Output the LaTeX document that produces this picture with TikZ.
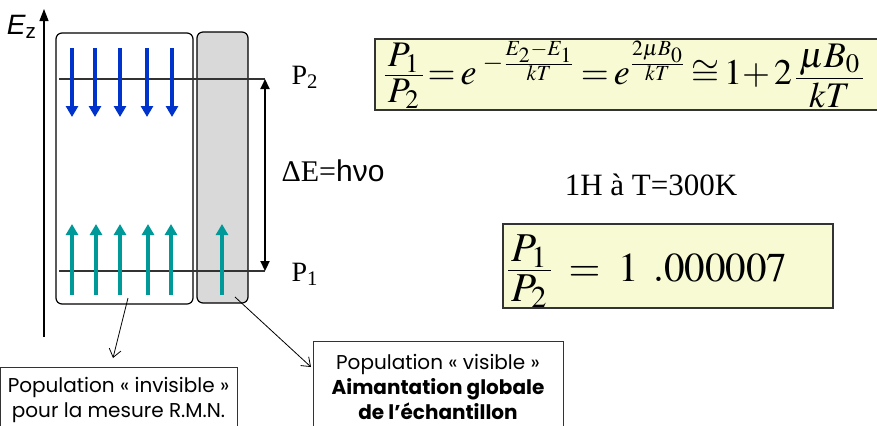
\documentclass[tikz,border=0pt]{standalone}
\usepackage{mathptmx}
\usepackage{fontspec}
\setmainfont{Liberation Serif}
\newfontfamily\arialfont{Liberation Sans}
\newfontfamily\comicfont{Poppins}
\usetikzlibrary{arrows.meta}

\definecolor{spinblue}{RGB}{0,51,204}
\definecolor{spinteal}{RGB}{0,153,153}
\definecolor{boxgray}{RGB}{217,217,217}
\definecolor{formyellow}{RGB}{248,250,212}

% tight fraction, as in the slide
\newcommand{\pfrac}[2]{\vcenter{\offinterlineskip\halign{\hfil\kern1.5pt$\displaystyle##$\kern1.5pt\hfil\cr #1\cr\noalign{\kern1.2pt\hrule height0.6pt\kern1.8pt}#2\cr}}}

\tikzset{
  level/.style={draw=black!80, line width=0.6pt},
  spindown/.style={spinblue, line width=1.6pt, -{Triangle[width=6pt,length=5.5pt]}},
  spinup/.style={spinteal, line width=1.6pt, -{Triangle[width=6pt,length=5.5pt]}},
  popbox/.style={draw, rounded corners=3pt, line width=0.6pt, inner sep=0pt},
  formbox/.style={draw=black!80, fill=formyellow, line width=0.6pt, inner sep=0pt},
  notebox/.style={draw=black!80, line width=0.5pt, align=center, font=\comicfont\fontsize{10}{12.5}\selectfont},
  pointer/.style={line width=0.4pt, -{Straight Barb[length=4pt,width=6pt]}}
}

\begin{document}
\begin{tikzpicture}[x=0.5pt,y=-0.5pt]
  \useasboundingbox (0,0) rectangle (877,425);

  % Populations
  \node[popbox, minimum width=68.5pt, minimum height=135.5pt] (inv) at (124.5,168.5) {};
  \node[popbox, fill=boxgray, minimum width=25.5pt, minimum height=135.5pt] (vis) at (222.5,167.5) {};

  % Energy axis
  \coordinate (axbot) at (44,337);
  \coordinate (axtop) at (44,9);
  \draw[line width=0.6pt, -{Triangle[width=4.5pt,length=6pt]}] (axbot) -- (axtop);
  \node[font=\arialfont\itshape\fontsize{14}{16}\selectfont] (ez) at (22,27) {E\textsubscript{\upshape z}};

  % Levels
  \coordinate (l2a) at (59,79);
  \coordinate (l2b) at (265,79);
  \coordinate (l1a) at (59,271);
  \coordinate (l1b) at (265,271);
  \draw[level] (l2a) -- (l2b);
  \draw[level] (l1a) -- (l1b);
  \draw[line width=1.1pt, {Triangle[width=4.5pt,length=5pt]}-{Triangle[width=4.5pt,length=5pt]}] (l2b) -- (l1b);

  \node[font=\fontsize{14}{16}\selectfont] (p2) at (305,77) {P\textsubscript{2}};
  \node[font=\fontsize{14}{16}\selectfont] (p1) at (305,274) {P\textsubscript{1}};
  \node[font=\fontsize{15}{18}\selectfont] (de) at (333,171) {{\rmfamily ΔE=}{\arialfont hνo}};

  % Spins
  \foreach \x in {72,95,120,147,172}
    \draw[spindown] (\x,48) -- (\x,117);
  \foreach \x in {72,96,120,148,171,222}
    \draw[spinup] (\x,295) -- (\x,224);

  % Formulas
  \node[formbox, minimum width=252.5pt, minimum height=35.5pt] (boltzbox) at (627.5,74.5) {};
  \node[inner sep=0pt, font=\fontsize{18}{22}\selectfont] (boltz) at (624,74.5)
    {$\pfrac{P_1}{P_2}\:{=}\:e^{\;-\frac{E_2-E_1}{kT}}\:{=}\:e^{\frac{2\mu B_0}{kT}}\:{\cong}\:1{+}\,2\,\pfrac{\mu B_0}{kT}$};
  \node[font=\fontsize{15.5}{18}\selectfont] (temp) at (651,185) {1H à T=300K};
  \node[formbox, minimum width=165pt, minimum height=42pt] (ratiobox) at (668,266) {};
  \node[inner sep=0pt, anchor=west, font=\fontsize{20.5}{24}\selectfont] (ratio) at (508,271)
    {$\pfrac{P_1}{P_2}\;=\;1\;\,.000007$};

  % Notes
  \node[notebox, minimum width=118.5pt, minimum height=32.5pt] (ninv) at (118.5,399.5)
    {Population « invisible »\\pour la mesure R.M.N.};
  \node[notebox, minimum width=125pt, minimum height=45.5pt] (nvis) at (438,386.5)
    {Population « visible »\\\textbf{Aimantation globale}\\\textbf{de l’échantillon}};

  % Edges
  \coordinate (invfoot) at (128,298);
  \coordinate (visfoot) at (235,297);
  \coordinate (invtip) at (113,358);
  \coordinate (vistip) at (311,367);
  \draw[pointer] (invfoot) -- (invtip);
  \draw[pointer] (visfoot) -- (vistip);
\end{tikzpicture}
\end{document}
